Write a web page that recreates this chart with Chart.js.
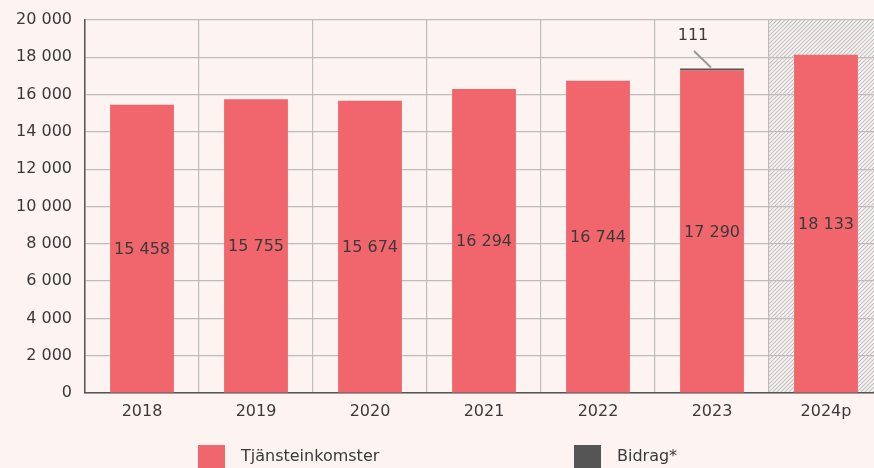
<!DOCTYPE html>
<html>
<head>
<meta charset="utf-8">
<script src="https://cdn.jsdelivr.net/npm/chart.js@4"></script>
<style>
  html, body { margin: 0; padding: 0; background: #fdf3f1; }
  #wrap { width: 874px; height: 468px; overflow: hidden; }
</style>
</head>
<body>
<div id="wrap"><canvas id="chart" width="883" height="468"></canvas></div>
<script>
const years = ["2018", "2019", "2020", "2021", "2022", "2023", "2024p"];
const tjanste = [15458, 15755, 15674, 16294, 16744, 17290, 18133];
const bidrag = [null, null, null, null, null, 111, null];
const seriesNames = ["Tjänsteinkomster", "Bidrag*"];
const colors = ["#f1666d", "#555555"];

const FONT = "'DejaVu Sans', sans-serif";
const TEXT = "#3a3a3a";

function fmt(v) {
  return String(v).replace(/\B(?=(\d{3})+(?!\d))/g, " ");
}

// skuggat område bakom prognosåret
const hatchPlugin = {
  id: "hatch",
  beforeDraw(chart) {
    const { ctx, chartArea: a, scales } = chart;
    const x = scales.x;
    const half = (x.getPixelForValue(1) - x.getPixelForValue(0)) / 2;
    const left = x.getPixelForValue(years.length - 1) - half;
    ctx.save();
    ctx.beginPath();
    ctx.rect(left, a.top, a.right - left, a.bottom - a.top);
    ctx.clip();
    ctx.fillStyle = "#fdf8f7";
    ctx.fillRect(left, a.top, a.right - left, a.bottom - a.top);
    ctx.strokeStyle = "#bcbcbc";
    ctx.lineWidth = 1.1;
    const h = a.bottom - a.top;
    for (let s = Math.round(left - h); s < a.right + 10; s += 4) {
      ctx.beginPath();
      ctx.moveTo(s, a.bottom);
      ctx.lineTo(s + h, a.top);
      ctx.stroke();
    }
    ctx.restore();
  }
};

const labelPlugin = {
  id: "labels",
  afterDatasetsDraw(chart) {
    const { ctx, chartArea: a } = chart;
    ctx.save();
    ctx.font = "16px " + FONT;
    ctx.fillStyle = TEXT;
    ctx.textAlign = "center";
    ctx.textBaseline = "middle";
    chart.getDatasetMeta(0).data.forEach((bar, i) => {
      ctx.fillText(fmt(tjanste[i]), bar.x, (bar.y + bar.base) / 2 + 1);
    });
    chart.getDatasetMeta(1).data.forEach((bar, i) => {
      if (bidrag[i] == null) return;
      ctx.fillText(fmt(bidrag[i]), bar.x - 19, a.top + 16);
      ctx.strokeStyle = "#999999";
      ctx.lineWidth = 2;
      ctx.beginPath();
      ctx.moveTo(bar.x - 18, a.top + 31);
      ctx.lineTo(bar.x - 1, bar.y - 1);
      ctx.stroke();
    });

    // förklaring
    const items = [
      { x: 198, text: seriesNames[0], color: colors[0] },
      { x: 574, text: seriesNames[1], color: colors[1] }
    ];
    ctx.textAlign = "left";
    items.forEach(it => {
      ctx.fillStyle = it.color;
      ctx.fillRect(it.x, 445, 27, 30);
      ctx.fillStyle = TEXT;
      ctx.fillText(it.text, it.x + 43, 457);
    });
    ctx.restore();
  }
};

new Chart(document.getElementById("chart"), {
  type: "bar",
  data: {
    labels: years,
    datasets: [
      { label: seriesNames[0], data: tjanste, backgroundColor: colors[0] },
      { label: seriesNames[1], data: bidrag, backgroundColor: colors[1] }
    ]
  },
  options: {
    responsive: false,
    animation: false,
    layout: { padding: { top: 20, right: 0, bottom: 0, left: 0 } },
    datasets: {
      bar: { categoryPercentage: 1, barPercentage: 0.56 }
    },
    plugins: {
      legend: { display: false },
      tooltip: { enabled: false }
    },
    scales: {
      x: {
        stacked: true,
        afterFit(s) { s.height = 75; s.paddingRight = 0; s.paddingLeft = 0; },
        grid: {
          color: "#bdbdbd",
          lineWidth: 1.2,
          drawTicks: false
        },
        border: { color: "#555", width: 1.5 },
        ticks: { color: TEXT, font: { family: FONT, size: 16 }, padding: 9 }
      },
      y: {
        stacked: true,
        min: 0,
        max: 20000,
        afterFit(s) { s.width = 85; s.paddingTop = 0; s.paddingBottom = 0; },
        grid: { color: "#bdbdbd", lineWidth: 1.2, drawTicks: false },
        border: { color: "#555", width: 1.5 },
        ticks: {
          stepSize: 2000,
          color: TEXT,
          font: { family: FONT, size: 16 },
          padding: 13,
          callback: v => fmt(v)
        }
      }
    }
  },
  plugins: [hatchPlugin, labelPlugin]
});
</script>
</body>
</html>
